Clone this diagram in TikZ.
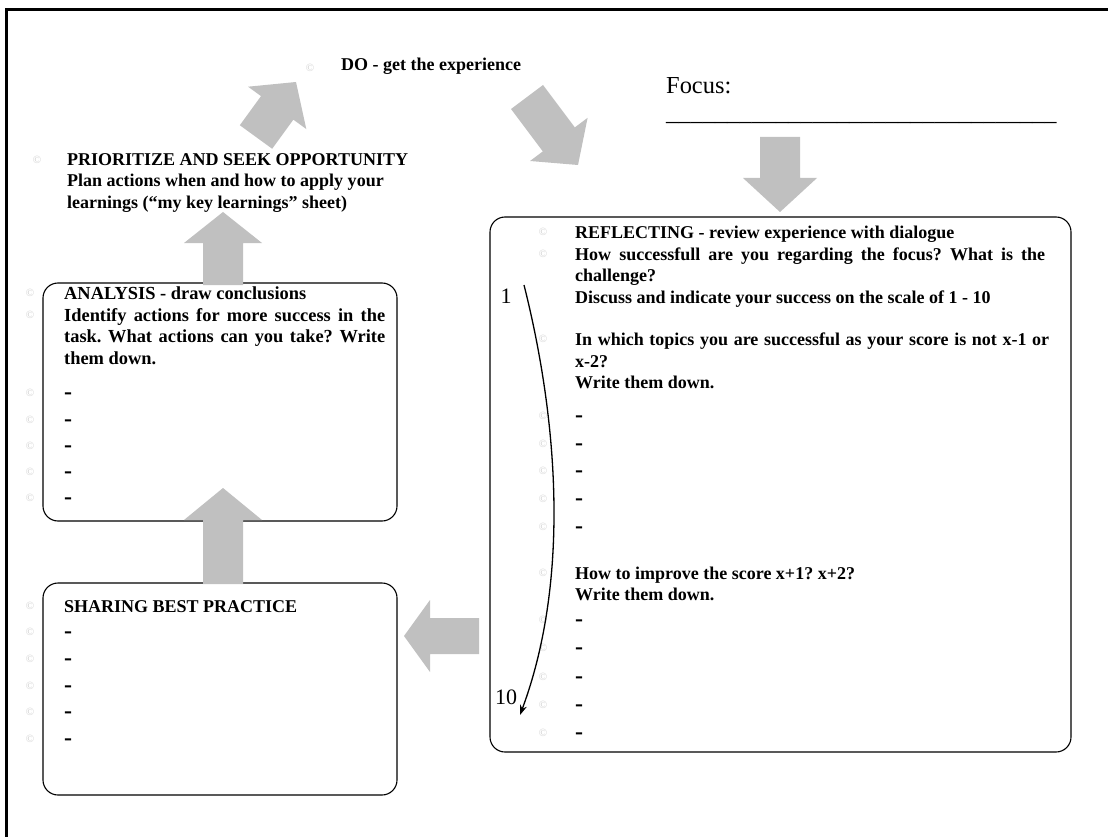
\documentclass[tikz,border=0pt]{standalone}
\usepackage{fontspec}
\setmainfont{Liberation Serif}
\usetikzlibrary{calc,arrows.meta}
\definecolor{arrowgray}{HTML}{C0C0C0}
\definecolor{bulletgray}{HTML}{D0D0D0}
% wide grey block arrow: tail, tip, shaft width, head width, head length
\newcommand\blockarrow[5]{%
  \coordinate (ab) at ($(#2)!#5!(#1)$);
  \fill[arrowgray] ($(#1)!#3/2!90:(#2)$) -- ($(ab)!#3/2!90:(#2)$) -- ($(ab)!#4/2!90:(#2)$)
    -- (#2) -- ($(ab)!#4/2!-90:(#2)$) -- ($(ab)!#3/2!-90:(#2)$) -- ($(#1)!#3/2!-90:(#2)$) -- cycle;
}
% a justified line set out to a given width
\newcommand\spreadline[2]{\makebox[#1][s]{#2}}
\tikzset{
  ln/.style={anchor=base west, inner sep=0pt, font=\bfseries\fontsize{18}{21.5}\selectfont},
  lnb/.style={ln, font=\bfseries\fontsize{18.4}{21.5}\selectfont},
  dashmark/.style={anchor=base west, inner sep=0pt, font=\bfseries\fontsize{24}{24}\selectfont},
  bul/.style={anchor=center, inner sep=0pt, text=bulletgray, font=\fontsize{11}{11}\selectfont},
  panel/.style={draw, line width=1.1pt, rounded corners=15pt},
  numlabel/.style={anchor=center, inner sep=0pt, font=\fontsize{22}{22}\selectfont},
}
\begin{document}
\frenchspacing
\begin{tikzpicture}[x=1pt, y=-1pt]
\useasboundingbox (0,0) rectangle (1108,837);
\fill[white] (0,0) rectangle (1108,837);
% page frame (top and left edges)
\draw[line width=3pt] (6,837) -- (6,10) -- (1108,10);

% panels
\draw[panel] (43,283) rectangle (397,521);
\draw[panel] (43,583) rectangle (397,795);
\draw[panel] (490,217) rectangle (1071,752);

% cycle arrows
\coordinate (a1t) at (256,137); \coordinate (a1h) at (296,82);
\blockarrow{a1t}{a1h}{40pt}{72pt}{32pt}
\coordinate (a2t) at (527,97); \coordinate (a2h) at (578,165);
\blockarrow{a2t}{a2h}{40pt}{72pt}{32pt}
\coordinate (a3t) at (780,137); \coordinate (a3h) at (780,212);
\blockarrow{a3t}{a3h}{40pt}{74pt}{34pt}
\coordinate (a4t) at (223,285); \coordinate (a4h) at (223,212);
\blockarrow{a4t}{a4h}{40pt}{78pt}{31pt}
\coordinate (a5t) at (223,584); \coordinate (a5h) at (223,488);
\blockarrow{a5t}{a5h}{40pt}{78pt}{32pt}
\coordinate (a6t) at (479,636); \coordinate (a6h) at (404,636);
\blockarrow{a6t}{a6h}{36pt}{72pt}{26pt}

% DO
\node[bul] (bdo) at (310,68) {©};
\node[ln] (do) at (341,71) {DO - get the experience};

% Focus
\node[anchor=base west, inner sep=0pt, font=\fontsize{24.4}{24}\selectfont] (focus) at (666,94) {Focus:};
\node[anchor=base west, inner sep=0pt, font=\fontsize{24.4}{24}\selectfont] (focusline) at (666,121)
  {\_\_\_\_\_\_\_\_\_\_\_\_\_\_\_\_\_\_\_\_\_\_\_\_\_\_\_\_\_\_\_\_};

% prioritize
\node[bul] (bpr) at (37,160) {©};
\node[ln] (pr1) at (67,166) {PRIORITIZE AND SEEK OPPORTUNITY};
\node[ln] (pr2) at (67,187) {Plan actions when and how to apply your};
\node[ln] (pr3) at (67,208) {learnings (“my key learnings” sheet)};

% analysis panel
\node[bul] (ba1) at (30,293) {©};
\node[bul] (ba2) at (30,315) {©};
\node[lnb] (an1) at (64,299) {ANALYSIS - draw conclusions};
\node[lnb] (an2) at (64,321) {\spreadline{321pt}{Identify actions for more success in the}};
\node[lnb] (an3) at (64,342) {\spreadline{321pt}{task. What actions can you take? Write}};
\node[lnb] (an4) at (64,364) {them down.};
\foreach \y [count=\i] in {393,420,446,472,498}{
  \node[bul] (bad\i) at (30,\y) {©};
  \node[dashmark] (ad\i) at (64,\y+6) {-};
}

% sharing panel
\node[bul] (bsh) at (30,606) {©};
\node[ln] (sh) at (64,612) {SHARING BEST PRACTICE};
\foreach \y [count=\i] in {632,659,686,712,739}{
  \node[bul] (bsd\i) at (30,\y) {©};
  \node[dashmark] (sd\i) at (64,\y+6) {-};
}

% reflecting panel
\node[bul] (br1) at (543,232) {©};
\node[bul] (br2) at (543,254) {©};
\node[bul] (br3) at (543,339) {©};
\node[ln] (re1) at (575,238) {REFLECTING - review experience with dialogue};
\node[ln] (re2) at (575,260) {\spreadline{470pt}{How successfull are you regarding the focus? What is the}};
\node[ln] (re3) at (575,281) {challenge?};
\node[ln] (re4) at (575,303) {Discuss and indicate your success on the scale of 1 - 10};
\node[ln] (re5) at (575,345) {\spreadline{474pt}{In which topics you are successful as your score is not x-1 or}};
\node[ln] (re6) at (575,367) {x-2?};
\node[ln] (re7) at (575,388) {Write them down.};
\foreach \y [count=\i] in {416,444,471,499,527}{
  \node[bul] (brd\i) at (543,\y) {©};
  \node[dashmark] (rd\i) at (575,\y+6) {-};
}
\node[bul] (br4) at (543,573) {©};
\node[ln] (re8) at (575,579) {How to improve the score x+1? x+2?};
\node[ln] (re9) at (575,600) {Write them down.};
\foreach \y [count=\i] in {620,648,677,705,733}{
  \node[bul] (bre\i) at (543,\y) {©};
  \node[dashmark] (rf\i) at (575,\y+6) {-};
}

% score scale from 1 to 10
\node[numlabel] (one) at (506,296) {1};
\node[numlabel] (ten) at (506,697) {10};
\coordinate (scaletop) at (524,285);
\coordinate (scalebot) at (520,715);
\draw[line width=1.3pt, -{Stealth[length=10pt,width=7pt]}] (scaletop) .. controls (556,412) and (572,575) .. (scalebot);
\end{tikzpicture}
\end{document}
